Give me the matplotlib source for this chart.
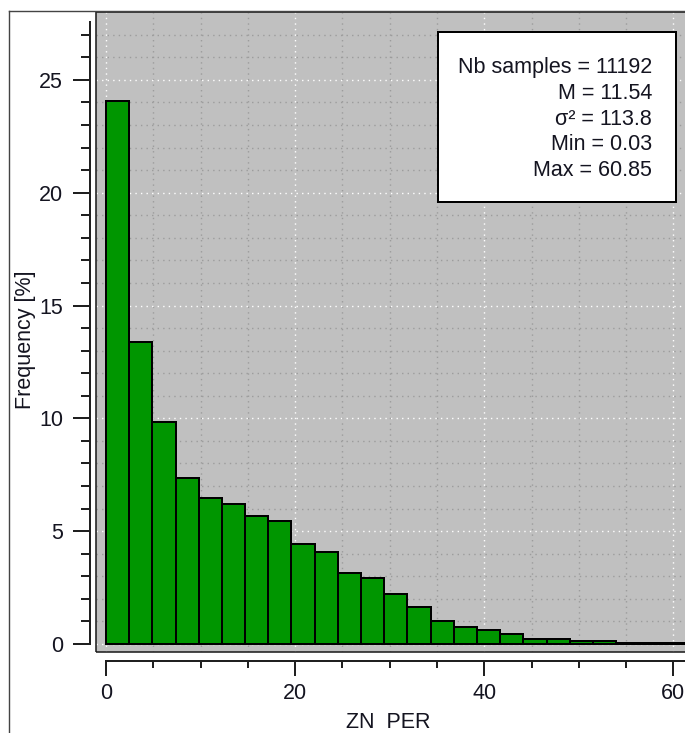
import numpy as np
import matplotlib
matplotlib.use("Agg")
import matplotlib.pyplot as plt
import matplotlib.patches as patches
from matplotlib.lines import Line2D
from matplotlib.ticker import MultipleLocator

# histogram (percent per bin)
freq = [24.05, 13.39, 9.83, 7.34, 6.46, 6.19, 5.66, 5.47, 4.42, 4.06,
        3.16, 2.91, 2.20, 1.65, 1.03, 0.77, 0.61, 0.44, 0.22, 0.24,
        0.15, 0.15, 0.06, 0.06, 0.06]
bin_start = 0.0
bin_width = 2.452

stats_lines = ["Nb samples = 11192", "M = 11.54", "σ² = 113.8",
               "Min = 0.03", "Max = 60.85"]
x_label = "ZN  PER"
y_label = "Frequency [%]"

W, H = 685, 733
DPI = 100
plt.rcParams['font.family'] = ['Liberation Sans', 'DejaVu Sans']
FS = 15.5
TXT = '#141420'


def px(v):
    # pixels -> points
    return v * 72.0 / DPI


fig = plt.figure(figsize=(W / DPI, H / DPI), dpi=DPI)

# gray plot area, placed in pixels (runs past the right edge like the source)
left_px, right_px, top_px, bot_px = 96, 700, 12, 652
ax = fig.add_axes([left_px / W, 1 - bot_px / H,
                   (right_px - left_px) / W, (bot_px - top_px) / H])
ax.set_facecolor('#c0c0c0')
ax.set_axisbelow(True)

edges = bin_start + bin_width * np.arange(len(freq) + 1)
ax.bar(edges[:-1], freq, width=bin_width, align='edge', color='#009600',
       edgecolor='black', linewidth=px(2), zorder=2)

ax.set_xlim(-1.06, 62.82)
ax.set_ylim(-0.355, 28.01)

ax.xaxis.set_major_locator(MultipleLocator(20))
ax.xaxis.set_minor_locator(MultipleLocator(5))
ax.yaxis.set_major_locator(MultipleLocator(5))
ax.yaxis.set_minor_locator(MultipleLocator(1))

ax.grid(which='major', color='white', linestyle=(0, (1, 3)), linewidth=1.0)
ax.grid(which='minor', color='#9c9c9c', linestyle=(0, (1, 3)), linewidth=1.0)

# detached axis lines
for s in ['top', 'right']:
    ax.spines[s].set_visible(False)
ax.spines['left'].set_position(('outward', px(6)))
ax.spines['bottom'].set_position(('outward', px(8.5)))
ax.spines['left'].set_bounds(0, 27.57)
ax.spines['bottom'].set_bounds(0, 62.82)
for s in ['left', 'bottom']:
    ax.spines[s].set_linewidth(px(2))
    ax.spines[s].set_color('#202020')

ax.tick_params(axis='y', which='major', length=px(17), width=px(2), pad=px(10),
               labelsize=FS, labelcolor=TXT, color='#202020')
ax.tick_params(axis='y', which='minor', length=px(9), width=px(2), color='#202020')
ax.tick_params(axis='x', which='major', length=px(14.5), width=px(2), pad=px(8),
               labelsize=FS, labelcolor=TXT, color='#202020')
ax.tick_params(axis='x', which='minor', length=px(7), width=px(2), color='#202020')
ax.set_yticks([0, 5, 10, 15, 20, 25])
ax.set_yticks([v for v in range(28) if v % 5], minor=True)
ax.set_xticks([0, 20, 40, 60])
ax.set_xticks([v for v in range(0, 61, 5) if v % 20], minor=True)

ax.set_xlabel(x_label, fontsize=FS, color=TXT)
ax.set_ylabel(y_label, fontsize=FS, color=TXT)
ax.xaxis.set_label_coords((388.5 - left_px) / (right_px - left_px),
                          (bot_px - 712) / (bot_px - top_px))
ax.yaxis.set_label_coords((36 - left_px) / (right_px - left_px),
                          (bot_px - 340) / (bot_px - top_px))

# dark frame round the gray area
ax.add_patch(patches.Rectangle((0, 0), 1, 1, transform=ax.transAxes, fill=False,
                               edgecolor='#202020', linewidth=px(1.6),
                               clip_on=False, zorder=5))

# outer window frame
fig.add_artist(Line2D([9 / W, 9 / W], [0, 1 - 11 / H], transform=fig.transFigure,
                      color='#444444', linewidth=px(1.4)))
fig.add_artist(Line2D([9 / W, 1], [1 - 11 / H, 1 - 11 / H], transform=fig.transFigure,
                      color='#444444', linewidth=px(1.4)))

# statistics box
fig.add_artist(patches.Rectangle((438 / W, 1 - 202 / H), 238 / W, 170 / H,
                                 transform=fig.transFigure, facecolor='white',
                                 edgecolor='black', linewidth=px(2), zorder=6))
for i, line in enumerate(stats_lines):
    fig.text(652 / W, 1 - (73.2 + 25.7 * i) / H, line, ha='right', va='baseline',
             fontsize=FS, color=TXT, zorder=7)

fig.savefig('out.png', dpi=DPI)
